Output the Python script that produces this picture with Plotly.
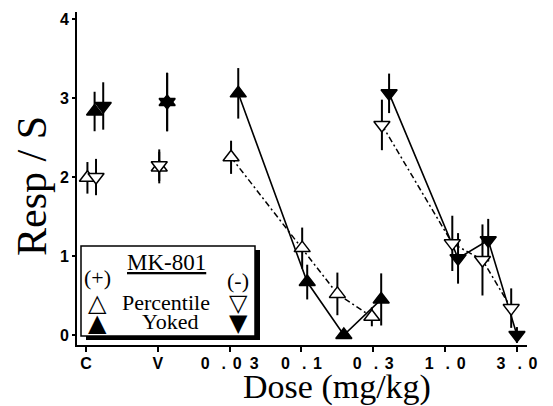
import plotly.graph_objects as go

# ---- data (x = position on the dose axis: 0=C, 1=V, 2=0.03, 3=0.1, 4=0.3, 5=1.0, 6=3.0) ----
tick_vals = [0, 1, 2, 3, 4, 5, 6]
tick_labels = ["C", "V", "0.03", "0.1", "0.3", "1.0", "3.0"]
y_ticks = [0, 1, 2, 3, 4]

pct_plus_x = [0.02, 1.02, 2.02, 3.01, 3.50, 3.98]
pct_plus_y = [1.99, 2.12, 2.25, 1.10, 0.52, 0.23]
pct_plus_e = [0.20, 0.20, 0.21, 0.26, 0.27, 0.12]

yok_plus_x = [0.12, 1.13, 2.12, 3.08, 3.59, 4.11]
yok_plus_y = [2.83, 2.95, 3.06, 0.67, 0.00, 0.45]
yok_plus_e = [0.25, 0.37, 0.32, 0.22, 0.00, 0.33]

pct_minus_x = [0.14, 1.02, 4.12, 5.10, 5.52, 5.92]
pct_minus_y = [2.00, 2.15, 2.66, 1.16, 0.95, 0.34]
pct_minus_e = [0.23, 0.20, 0.32, 0.35, 0.45, 0.25]

yok_minus_x = [0.24, 1.13, 4.22, 5.18, 5.60, 6.00]
yok_minus_y = [2.90, 2.95, 3.06, 0.97, 1.20, 0.00]
yok_minus_e = [0.30, 0.37, 0.25, 0.32, 0.27, 0.10]

fig = go.Figure()

# connecting lines for dose-response part
dashdot = "6px,3px,2px,3px"
fig.add_trace(go.Scatter(x=pct_plus_x[2:], y=pct_plus_y[2:], mode="lines",
                         line=dict(color="black", width=1.5, dash=dashdot), hoverinfo="skip"))
fig.add_trace(go.Scatter(x=yok_plus_x[2:], y=yok_plus_y[2:], mode="lines",
                         line=dict(color="black", width=1.6), hoverinfo="skip"))
fig.add_trace(go.Scatter(x=pct_minus_x[2:], y=pct_minus_y[2:], mode="lines",
                         line=dict(color="black", width=1.5, dash=dashdot), hoverinfo="skip"))
fig.add_trace(go.Scatter(x=yok_minus_x[2:], y=yok_minus_y[2:], mode="lines",
                         line=dict(color="black", width=1.6), hoverinfo="skip"))

def pts(x, y, e, symbol, fill):
    return go.Scatter(
        x=x, y=y, mode="markers",
        error_y=dict(type="data", array=e, visible=True, color="black", thickness=2, width=0),
        marker=dict(symbol=symbol, size=14, color=fill, line=dict(color="black", width=1.5)),
    )

fig.add_trace(pts(yok_plus_x, yok_plus_y, yok_plus_e, "triangle-up", "black"))
fig.add_trace(pts(yok_minus_x, yok_minus_y, yok_minus_e, "triangle-down", "black"))
fig.add_trace(pts(pct_plus_x, pct_plus_y, pct_plus_e, "triangle-up", "white"))
fig.add_trace(pts(pct_minus_x, pct_minus_y, pct_minus_e, "triangle-down", "white"))

tick_font = dict(family="Liberation Sans, Arial, sans-serif", size=16, color="black", weight="bold")


def spaced(label):
    # wide, typewriter-like letter spacing of the original tick labels
    out = ""
    for i, ch in enumerate(label):
        out += ch
        if i < len(label) - 1:
            nxt = label[i + 1]
            if nxt == ".":
                out += "\u2002\u2005"
            elif ch == ".":
                out += "\u2005\u2006"
            else:
                out += "\u2002"
    return out


fig.update_xaxes(
    range=[-0.125, 6.14], tickvals=tick_vals,
    ticktext=[spaced(t) for t in tick_labels],
    showline=True, linecolor="black", linewidth=2, ticks="outside", ticklen=5,
    tickwidth=1.5, tickcolor="black", showgrid=False, zeroline=False,
    tickfont=tick_font, ticklabelstandoff=-2,
)
fig.update_yaxes(
    range=[-0.127, 4.09], tickvals=y_ticks,
    showline=True, linecolor="black", linewidth=2, ticks="outside", ticklen=3,
    tickwidth=1.5, tickcolor="black", showgrid=False, zeroline=False,
    tickfont=tick_font,
)

serif = "Liberation Serif, Times New Roman, serif"
sym_font = "DejaVu Sans, sans-serif"

PX0, PX1, PY0, PY1 = 77, 527, 12, 345
def px(x):
    return (x - PX0) / (PX1 - PX0)
def py(y):
    return (PY1 - y) / (PY1 - PY0)

shapes = [
    dict(type="rect", xref="paper", yref="paper", x0=px(86), x1=px(260), y0=py(340), y1=py(250),
         fillcolor="black", line=dict(width=0), layer="above"),
    dict(type="rect", xref="paper", yref="paper", x0=px(81), x1=px(255), y0=py(336), y1=py(246),
         fillcolor="white", line=dict(color="black", width=1.5), layer="above"),
]

def ann(text, x, y, size, family=serif, angle=0):
    return dict(text=text, x=px(x), y=py(y), xref="paper", yref="paper", textangle=angle,
                xanchor="center", yanchor="middle", showarrow=False,
                font=dict(family=family, size=size, color="black"))

annotations = [
    ann("Resp / S", 32, 186, 42, angle=-90),
    ann("Dose (mg/kg)", 337, 387, 34),
    ann("<u>MK-801</u>", 166, 262, 23),
    ann("(+)", 97, 277, 22),
    ann("(-)", 238, 280, 22),
    ann("Percentile", 166, 302, 22),
    ann("Yoked", 170, 321, 22),
    ann("\u25b3", 97, 303, 24, family=sym_font),
    ann("\u25bd", 238, 303, 24, family=sym_font),
    ann("\u25b2", 97, 323, 24, family=sym_font),
    ann("\u25bc", 238, 323, 24, family=sym_font),
]

fig.update_layout(
    width=553, height=406,
    margin=dict(l=PX0, r=553 - PX1, t=PY0, b=406 - PY1),
    plot_bgcolor="white", paper_bgcolor="white",
    showlegend=False, shapes=shapes, annotations=annotations,
)

fig.write_html("out.html")
